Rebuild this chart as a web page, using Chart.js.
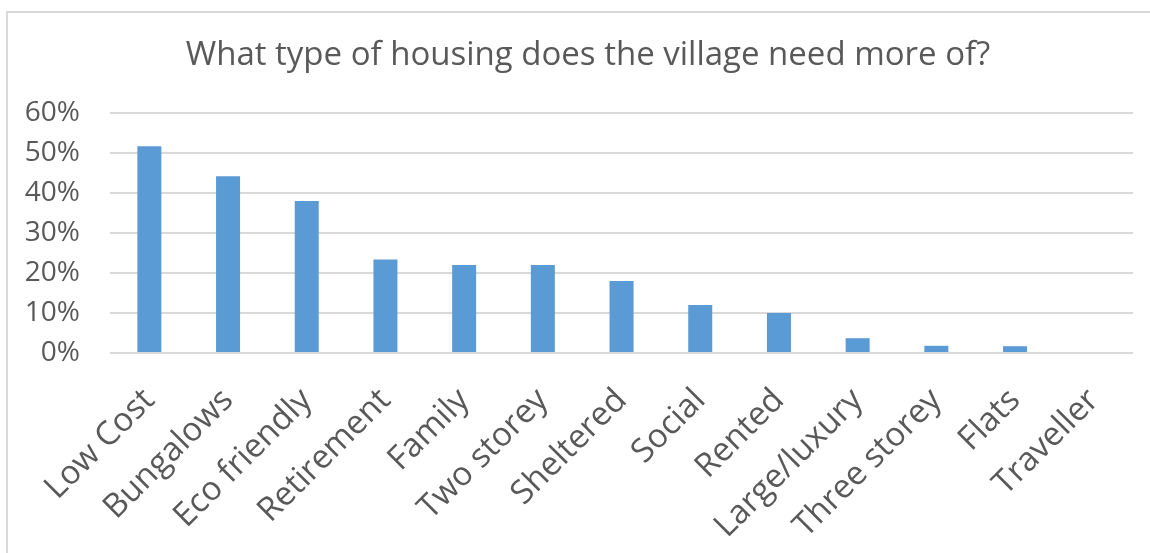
<!DOCTYPE html>
<html>
<head>
<meta charset="utf-8">
<script src="https://cdn.jsdelivr.net/npm/chart.js@4"></script>
<style>
    body { margin: 0; background: #fff; }
    .frame {
        position: absolute; left: 6px; top: 11px;
        width: 1160px; height: 600px;
        border: 2px solid #d9d9d9;
    }
    .wrap { position: absolute; left: 0; top: 0; width: 1150px; height: 553px; }
</style>
</head>
<body>
<div class="frame"></div>
<div class="wrap"><canvas id="chart"></canvas></div>
<script>
        // Survey answers (share of respondents)
        const categories = ['Low Cost', 'Bungalows', 'Eco friendly', 'Retirement', 'Family', 'Two storey',
            'Sheltered', 'Social', 'Rented', 'Large/luxury', 'Three storey', 'Flats', 'Traveller'];
        const shares = [51.7, 44.2, 38.0, 23.4, 22.0, 22.0, 18.0, 12.0, 10.0, 3.7, 1.8, 1.7, 0];
        const yTicks = [0, 10, 20, 30, 40, 50, 60];
        const titleText = 'What type of housing does the village need more of?';

        const textColor = '#595959';
        const fontFamily = '"Open Sans", sans-serif';

        // Title sits centred on the whole frame, not on the plot, so draw it here
        const frameTitle = {
            id: 'frameTitle',
            afterDraw(chart) {
                const c = chart.ctx;
                c.save();
                c.fillStyle = textColor;
                c.font = '33px ' + fontFamily;
                c.textAlign = 'center';
                c.textBaseline = 'middle';
                c.fillText(titleText, 588, 56);
                c.restore();
            }
        };

        const ctx = document.getElementById('chart').getContext('2d');
        const chart = new Chart(ctx, {
            type: 'bar',
            data: {
                labels: categories,
                datasets: [{
                    data: shares,
                    backgroundColor: '#5b9bd5',
                    categoryPercentage: 1,
                    barPercentage: 0.305
                }]
            },
            plugins: [frameTitle],
            options: {
                responsive: true,
                maintainAspectRatio: false,
                animation: false,
                layout: { padding: { left: 0, right: 7, top: 113, bottom: 0 } },
                plugins: {
                    legend: { display: false },
                    tooltip: { enabled: false },
                    title: { display: false }
                },
                scales: {
                    y: {
                        min: 0,
                        max: 60,
                        afterBuildTicks: (axis) => { axis.ticks = yTicks.map(v => ({ value: v })); },
                        afterFit: (axis) => { axis.width = 110; },
                        grid: { color: '#d9d9d9', lineWidth: 2, drawTicks: false },
                        border: { display: false },
                        ticks: {
                            color: textColor,
                            padding: 30,
                            font: { family: fontFamily, size: 28 },
                            callback: (v) => v + '%'
                        }
                    },
                    x: {
                        afterFit: (axis) => { axis.height = 200; },
                        grid: { display: false, drawTicks: false },
                        border: { display: false },
                        ticks: {
                            color: textColor,
                            padding: 28,
                            minRotation: 45,
                            maxRotation: 45,
                            autoSkip: false,
                            font: { family: fontFamily, size: 33 }
                        }
                    }
                }
            }
        });
</script>
</body>
</html>
